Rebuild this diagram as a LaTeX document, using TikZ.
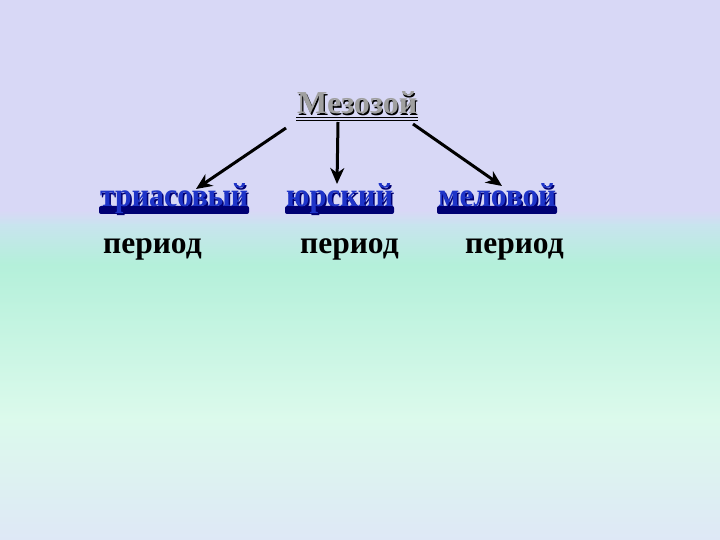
\documentclass[tikz,border=0pt]{standalone}
\usepackage{fontspec}
\setmainfont{Liberation Serif}
\usetikzlibrary{arrows.meta,calc}
\definecolor{lav}{RGB}{216,216,246}
\definecolor{tr1}{RGB}{200,228,238}
\definecolor{mint}{RGB}{180,240,218}
\definecolor{palemint}{RGB}{220,250,236}
\definecolor{bot}{RGB}{222,232,246}
\definecolor{wblue}{RGB}{30,52,200}
\definecolor{wnavy}{RGB}{0,0,115}
\definecolor{tgray}{RGB}{160,160,160}
\tikzset{
  arr/.style={line width=3pt, -{Stealth[length=16pt,width=14pt,inset=5pt]}},
  per/.style={inner sep=0pt, anchor=base west, font=\fontsize{31.5}{31.5}\selectfont\bfseries},
  wa/.style={inner sep=0pt, anchor=base west, font=\bfseries},
}
\newcommand{\bluew}[4]{% x, baseline y, width, text
  \fill[wnavy, rounded corners=2pt] (#1-1,#2-1) rectangle (#1+#3+1,#2+7);
  \node[wa, text=wnavy] at (#1+1.5,#2+1.5) {\resizebox{#3pt}{23pt}{#4}};
}
\begin{document}
\begin{tikzpicture}[x=1pt,y=-1pt]
\useasboundingbox (0,0) rectangle (720,540);
\fill[lav] (0,0) rectangle (720,212);
\shade[top color=lav, bottom color=tr1] (0,211) rectangle (720,226);
\shade[top color=tr1, bottom color=mint] (0,225) rectangle (720,265);
\shade[top color=mint, bottom color=palemint] (0,264) rectangle (720,420);
\shade[top color=palemint, bottom color=bot] (0,419) rectangle (720,540);

% title
\node[wa, text=black] at (298.2,115.2) {\resizebox{120pt}{22pt}{Мезозой}};
\node[wa, text=tgray] (title) at (297,114) {\resizebox{120pt}{22pt}{Мезозой}};
\draw[black, line width=1pt] (296,117.5) -- (418,117.5);
\draw[black, line width=1pt] (296,120.5) -- (418,120.5);

% blue words
\bluew{100}{207}{148}{триасовый}
\node[wa, text=wblue] (t1) at (100,207) {\resizebox{148pt}{23pt}{триасовый}};
\bluew{286}{207}{107}{юрский}
\node[wa, text=wblue] (t2) at (286,207) {\resizebox{107pt}{23pt}{юрский}};
\bluew{438}{207}{118}{меловой}
\node[wa, text=wblue] (t3) at (438,207) {\resizebox{118pt}{23pt}{меловой}};

% period
\node[per] (p1) at (103,253) {период};
\node[per] (p2) at (300,253) {период};
\node[per] (p3) at (465,253) {период};

% arrows
\draw[arr] ($(title.base west)+(-11,14)$) -- ($(t1.base west)+(96,-18)$);
\draw[arr] ($(title.base west)+(41,8)$) -- ($(t2.base west)+(51,-23)$);
\draw[arr] ($(title.base west)+(116,10)$) -- ($(t3.base west)+(64,-21)$);
\end{tikzpicture}
\end{document}
